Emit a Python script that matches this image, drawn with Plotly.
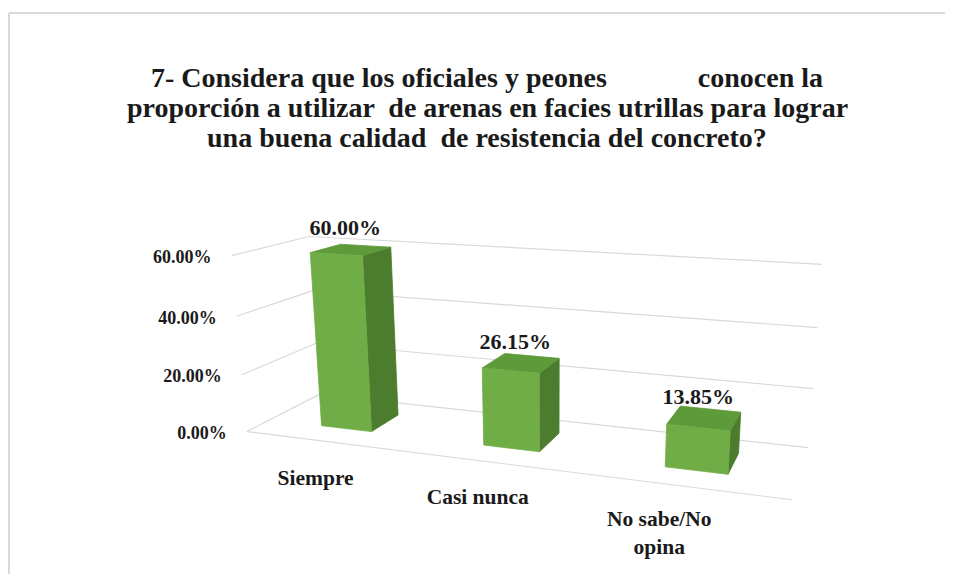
import numpy as np
import plotly.graph_objects as go

# ---------------- data ----------------
categories = ["Siempre", "Casi nunca", "No sabe/No<br>opina"]
values = [60.00, 26.15, 13.85]
value_labels = ["60.00%", "26.15%", "13.85%"]
tick_values = [0, 20, 40, 60]
tick_labels = ["0.00%", "20.00%", "40.00%", "60.00%"]
title_lines = [
    "7- Considera que los oficiales y peones" + "\u00a0" * 13 + "conocen la",
    "proporción a utilizar  de arenas en facies utrillas para lograr",
    "una buena calidad  de resistencia del concreto?",
]

# ---------------- layout constants ----------------
VW, VH = 953, 582          # browser window
OFF = 8                    # default page margin around the figure
W, H = VW - 2 * OFF, VH - 2 * OFF
FONT = "Liberation Serif"
INK = "#1a1a1a"
FRONT = "#70AD47"
TOP = "#5F9A3A"
SIDE = "#4C7C2D"
GRID = "#D9D9D9"

N = len(categories)
BAR_W = 0.32
D0, D1 = 0.30, 0.72

# perspective camera: world (u=category axis, d=depth, v=value) -> window pixel
calib_world = [
    (0, 0, 0), (0, 0, 20), (0, 0, 40), (0, 0, 60),
    (0, 1, 0), (0, 1, 20), (0, 1, 40), (0, 1, 60),
    (N, 1, 0), (N, 1, 20), (N, 1, 40), (N, 1, 60),
    (N, 0, 0),
]
calib_pix = [
    (246, 431), (241, 375), (237, 317), (233, 255),
    (320, 395), (317, 343), (313, 290), (307, 237),
    (809, 448), (812, 388), (817, 327), (823, 265),
    (792, 500),
]


def fit_camera(world, pix):
    rows, rhs = [], []
    for (u, d, v), (x, y) in zip(world, pix):
        rows.append([u, d, v, 1, 0, 0, 0, 0, -x * u, -x * d, -x * v]); rhs.append(x)
        rows.append([0, 0, 0, 0, u, d, v, 1, -y * u, -y * d, -y * v]); rhs.append(y)
    p, *_ = np.linalg.lstsq(np.array(rows, float), np.array(rhs, float), rcond=None)
    return np.append(p, 1.0).reshape(3, 4)


P = fit_camera(calib_world, calib_pix)


def proj(u, d, v):
    X = P @ np.array([u, d, v, 1.0])
    return X[0] / X[2], X[1] / X[2]


def poly(points):
    xs, ys = [], []
    for p in points + [points[0]]:
        x, y = proj(*p)
        xs.append(x); ys.append(y)
    return xs, ys


fig = go.Figure()

# gridlines: side wall + back wall, and front floor edge
gx, gy = [], []
for v in tick_values:
    for a, b in [((0, 0, v), (0, 1, v)), ((0, 1, v), (N, 1, v))]:
        x0, y0 = proj(*a); x1, y1 = proj(*b)
        gx += [x0, x1, None]; gy += [y0, y1, None]
x0, y0 = proj(0, 0, 0); x1, y1 = proj(N, 0, 0)
gx += [x0, x1]; gy += [y0, y1]
fig.add_trace(go.Scatter(x=gx, y=gy, mode="lines", line=dict(color=GRID, width=1.2),
                         hoverinfo="skip", showlegend=False))

# bars (front, top and right side faces)
for i, h in enumerate(values):
    c = i + 0.5
    u0, u1 = c - BAR_W / 2, c + BAR_W / 2
    faces = [
        ([(u1, D0, 0), (u1, D1, 0), (u1, D1, h), (u1, D0, h)], SIDE),
        ([(u0, D0, h), (u1, D0, h), (u1, D1, h), (u0, D1, h)], TOP),
        ([(u0, D0, 0), (u1, D0, 0), (u1, D0, h), (u0, D0, h)], FRONT),
    ]
    for pts, col in faces:
        xs, ys = poly(pts)
        fig.add_trace(go.Scatter(x=xs, y=ys, mode="lines", fill="toself", fillcolor=col,
                                 line=dict(color=col, width=0.8), hoverinfo="skip",
                                 showlegend=False))

# value labels
lx, ly = [], []
for i, h in enumerate(values):
    x, y = proj(i + 0.5, (D0 + D1) / 2, h)
    lx.append(x - 6); ly.append(y - 9)
fig.add_trace(go.Scatter(x=lx, y=ly, mode="text", text=[f"<b>{t}</b>" for t in value_labels],
                         textposition="top center",
                         textfont=dict(family=FONT, size=22, color=INK),
                         hoverinfo="skip", showlegend=False))

# value axis labels
tx, ty = [], []
for v in tick_values:
    x, y = proj(0, 0, v)
    tx.append(x - 20); ty.append(y + 3)
fig.add_trace(go.Scatter(x=tx, y=ty, mode="text", text=[f"<b>{t}</b>" for t in tick_labels],
                         textposition="middle left",
                         textfont=dict(family=FONT, size=18, color=INK),
                         hoverinfo="skip", showlegend=False))

# category labels
cx, cy = [], []
for i in range(N):
    x, y = proj(i + 0.5 - BAR_W / 2, D0, 0)
    cx.append(x - 6); cy.append(y + 43)
fig.add_trace(go.Scatter(x=cx, y=cy, mode="text", text=[f"<b>{t}</b>" for t in categories],
                         textposition="bottom center",
                         textfont=dict(family=FONT, size=21.5, color=INK),
                         hoverinfo="skip", showlegend=False))

# title, one annotation per line
title_y = [77, 107, 137]
annotations = [
    dict(text=f"<b>{t}</b>", x=487, y=yy, xref="x", yref="y", showarrow=False,
         xanchor="center", yanchor="middle", font=dict(family=FONT, size=28, color=INK))
    for t, yy in zip(title_lines, title_y)
]

fig.update_layout(
    width=W, height=H,
    margin=dict(l=0, r=0, t=0, b=0),
    paper_bgcolor="white", plot_bgcolor="white",
    xaxis=dict(range=[OFF, OFF + W], visible=False, fixedrange=True),
    yaxis=dict(range=[OFF + H, OFF], visible=False, fixedrange=True),
    annotations=annotations,
    shapes=[
        dict(type="line", xref="x", yref="y", x0=OFF + 1, x1=OFF + W, y0=13, y1=13,
             line=dict(color="#D9D9D9", width=2)),
        dict(type="line", xref="x", yref="y", x0=OFF + 1, x1=OFF + 1, y0=13, y1=OFF + H,
             line=dict(color="#D9D9D9", width=2)),
    ],
)

fig.write_html("out.html")
